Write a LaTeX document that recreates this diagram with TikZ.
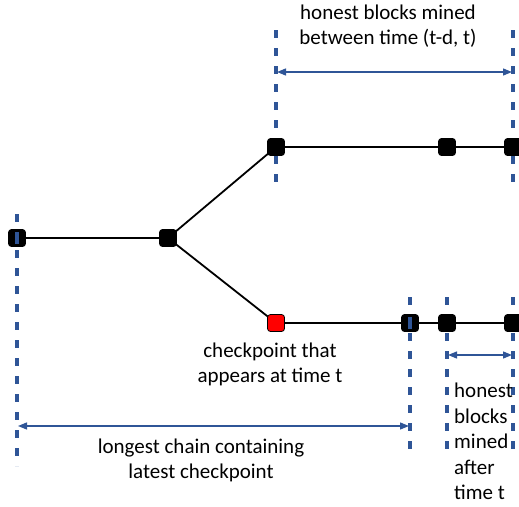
\documentclass[tikz,border=0pt]{standalone}
\usepackage{fontspec}
\setmainfont{Carlito}
\usetikzlibrary{arrows.meta}
\definecolor{guide}{HTML}{2F5597}
\definecolor{ckred}{HTML}{FF0000}
\tikzset{
  blk/.style={draw=black, fill=black, rounded corners=3pt, minimum size=17pt, inner sep=0pt, line width=0.8pt},
  ckblk/.style={blk, fill=ckred},
  link/.style={line width=1.8pt, black},
  guideline/.style={guide, line width=3.2pt, dash pattern=on 8pt off 10pt},
  span/.style={guide, line width=1.3pt, {Triangle[length=9pt,width=7pt]}-{Triangle[length=9pt,width=7pt]}},
  lbl/.style={font=\fontsize{21pt}{25pt}\selectfont, text=black, inner sep=0pt}
}
\begin{document}
\begin{tikzpicture}[x=1pt,y=-1pt]
\useasboundingbox (0,0) rectangle (519,506);

% time guides
\draw[guideline] (17,214) -- (17,466);
\draw[guideline] (276,30) -- (276,188);
\draw[guideline] (513,30) -- (513,188);
\draw[guideline] (410,297) -- (410,456);
\draw[guideline] (447,297) -- (447,456);
\draw[guideline] (513,297) -- (513,456);

% chain links
\coordinate (a) at (17,238);
\coordinate (b) at (168,238);
\coordinate (c) at (276,147);
\coordinate (d) at (447,147);
\coordinate (e) at (513,147);
\coordinate (r) at (276,323);
\coordinate (f) at (410,323);
\coordinate (g) at (447,323);
\coordinate (h) at (513,323);
\draw[link] (a) -- (b) -- (c) -- (d) -- (e);
\draw[link] (b) -- (r) -- (f) -- (g) -- (h);

% blocks
\node[blk] (A) at (a) {};
\node[blk] (B) at (b) {};
\node[blk] (C) at (c) {};
\node[blk] (D) at (d) {};
\node[blk] (E) at (e) {};
\node[ckblk] (R) at (r) {};
\node[blk] (F) at (f) {};
\node[blk] (G) at (g) {};
\node[blk] (H) at (h) {};
\draw[guide, line width=3.2pt] (17,232) -- (17,244);
\draw[guide, line width=3.2pt] (410,317) -- (410,329);

% spans
\coordinate (s1l) at (277,72);  \coordinate (s1r) at (512,72);
\coordinate (s2l) at (448,355); \coordinate (s2r) at (512,355);
\coordinate (s3l) at (18,426);  \coordinate (s3r) at (409,426);
\draw[span] (s1l) -- (s1r);
\draw[span] (s2l) -- (s2r);
\draw[span] (s3l) -- (s3r);

% labels
\node[lbl, align=center] (t1) at (388,26) {honest blocks mined\\between time (t-d, t)};
\node[lbl, align=center] (t2) at (270,364) {checkpoint that\\appears at time t};
\node[lbl, align=center] (t3) at (201,460) {longest chain containing\\latest checkpoint};
\node[lbl, align=left, anchor=north west, font=\fontsize{21pt}{25.5pt}\selectfont] (t4) at (454,383) {honest\\blocks\\mined\\after\\time t};
\end{tikzpicture}
\end{document}
